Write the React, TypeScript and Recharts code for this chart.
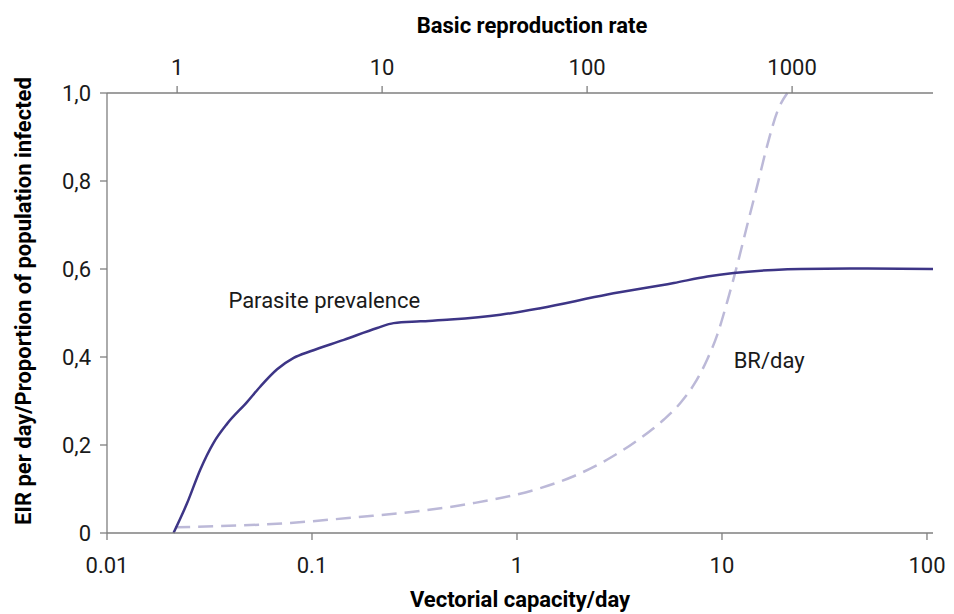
import React from 'react';
import { LineChart, Line, XAxis, YAxis, ReferenceDot } from 'recharts';

// Vectorial capacity (per day) and parasite prevalence (proportion infected)
const prevalenceVc = [0.0211, 0.0246, 0.0285, 0.0331, 0.0385, 0.0483, 0.056, 0.0676, 0.0814, 0.0982, 0.143, 0.208, 0.25, 0.338, 0.473, 0.83, 1.3, 2.76, 5.82, 8.48, 11.4, 17.9, 24.2, 51.4, 107];
const prevalenceVal = [0, 0.068, 0.144, 0.205, 0.248, 0.298, 0.333, 0.372, 0.398, 0.413, 0.439, 0.466, 0.477, 0.481, 0.485, 0.496, 0.511, 0.542, 0.568, 0.583, 0.591, 0.598, 0.6, 0.601, 0.6];

// Vectorial capacity and biting rate (BR/day)
const brVc = [0.0215, 0.0785, 0.166, 0.351, 0.615, 1.3, 1.89, 2.76, 4.01, 5.21, 6.28, 7.29, 8.48, 9.49, 10.61, 11.88, 13.28, 14.87, 16.63, 18.62, 20.83];
const brVal = [0.013, 0.023, 0.036, 0.051, 0.068, 0.102, 0.129, 0.167, 0.216, 0.258, 0.296, 0.337, 0.395, 0.451, 0.526, 0.61, 0.7, 0.79, 0.881, 0.958, 1.0];

const vcTicks = [0.01, 0.1, 1, 10, 100];
const r0Ticks = [1, 10, 100, 1000];
const yTicks = [0, 0.2, 0.4, 0.6, 0.8, 1.0];

// vectorial capacity at which the basic reproduction rate equals 1
const VC_AT_R0_ONE = 0.02198;
const VC_DOMAIN: [number, number] = [0.01, 107];
const R0_DOMAIN: [number, number] = [VC_DOMAIN[0] / VC_AT_R0_ONE, VC_DOMAIN[1] / VC_AT_R0_ONE];

const annotations = [
  { text: 'Parasite prevalence', vc: 0.0391, value: 0.512 },
  { text: 'BR/day', vc: 11.4, value: 0.376 },
];

const prevalenceData = prevalenceVc.map((vc, i) => ({ vc, value: prevalenceVal[i] }));
const brData = brVc.map((vc, i) => ({ vc, value: brVal[i] }));
// same points expressed on the basic reproduction rate axis (only used to bind the top axis)
const brDataR0 = brData.map((d) => ({ r0: d.vc / VC_AT_R0_ONE, value: d.value }));

const FONT = 'Roboto, "Liberation Sans", sans-serif';
const AXIS = '#7f7f7f';
const tickStyle = { fill: '#1a1a1a', fontSize: 22, fontFamily: FONT };

const AnnotationLabel = (props: any) => {
  const { viewBox, value } = props;
  return (
    <text x={viewBox.x} y={viewBox.y} fill="#1a1a1a" fontSize={22} fontFamily={FONT}>
      {value}
    </text>
  );
};

const YTitle = (props: any) => {
  const { viewBox } = props;
  const cx = viewBox.x + 23;
  const cy = viewBox.y + viewBox.height / 2 - 12;
  return (
    <text
      x={cx}
      y={cy}
      transform={`rotate(-90 ${cx} ${cy})`}
      textAnchor="middle"
      dominantBaseline="central"
      fontSize={22}
      fontWeight="bold"
      fontFamily={FONT}
      fill="#000"
    >
      EIR per day/Proportion of population infected
    </text>
  );
};

const App: React.FC = () => {
  return (
    <div style={{ position: 'absolute', left: 0, top: 0, width: 954, height: 614, background: '#fff' }}>
      <LineChart width={954} height={614} margin={{ top: 0, right: 21, bottom: 0, left: 0 }}>
        <XAxis
          xAxisId="vc"
          dataKey="vc"
          type="number"
          scale="log"
          domain={VC_DOMAIN}
          allowDataOverflow
          ticks={vcTicks}
          height={81}
          stroke={AXIS}
          strokeWidth={1.3}
          tickSize={7}
          tickMargin={17}
          tick={tickStyle}
          label={{ value: 'Vectorial capacity/day', position: 'insideBottom', offset: 7, fill: '#000', fontSize: 22, fontWeight: 'bold', fontFamily: FONT }}
        />
        <XAxis
          xAxisId="r0"
          dataKey="r0"
          orientation="top"
          type="number"
          scale="log"
          domain={R0_DOMAIN}
          allowDataOverflow
          ticks={r0Ticks}
          height={93}
          stroke={AXIS}
          strokeWidth={1.3}
          tickSize={7}
          tickMargin={11}
          tick={tickStyle}
          label={{ value: 'Basic reproduction rate', position: 'insideTop', offset: 17, dx: 12, fill: '#000', fontSize: 22, fontWeight: 'bold', fontFamily: FONT }}
        />
        <YAxis
          type="number"
          domain={[0, 1]}
          ticks={yTicks}
          width={107}
          stroke={AXIS}
          strokeWidth={1.3}
          tickSize={7}
          tickMargin={9}
          tick={tickStyle}
          tickFormatter={(v: number) => (v === 0 ? '0' : v.toFixed(1).replace('.', ','))}
          label={<YTitle />}
        />
        <Line
          xAxisId="r0"
          data={brDataR0}
          dataKey="value"
          stroke="none"
          strokeOpacity={0}
          dot={false}
          activeDot={false}
          legendType="none"
          isAnimationActive={false}
        />
        <Line
          xAxisId="vc"
          data={brData}
          dataKey="value"
          type="monotone"
          stroke="#bcb9d8"
          strokeWidth={2.5}
          strokeDasharray="15 8"
          dot={false}
          isAnimationActive={false}
        />
        <Line
          xAxisId="vc"
          data={prevalenceData}
          dataKey="value"
          type="monotone"
          stroke="#3d3586"
          strokeWidth={2.5}
          dot={false}
          isAnimationActive={false}
        />
        {annotations.map((a) => (
          <ReferenceDot
            key={a.text}
            xAxisId="vc"
            x={a.vc}
            y={a.value}
            r={0}
            fill="none"
            stroke="none"
            label={{ value: a.text, content: AnnotationLabel }}
          />
        ))}
      </LineChart>
    </div>
  );
};

export default App;
